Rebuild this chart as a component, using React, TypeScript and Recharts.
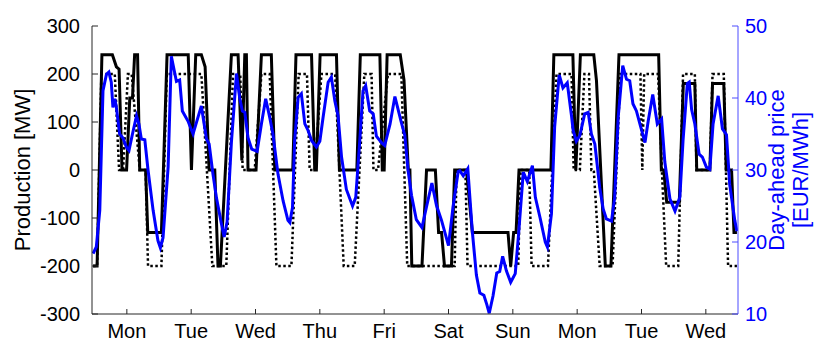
import { LineChart, Line, XAxis, YAxis } from "recharts";

// hour-of-period axis, ticks sit at midday
const dayTicks = [13, 37, 61, 85, 109, 133, 157, 181, 205, 229];
const dayNames = ["Mon", "Tue", "Wed", "Thu", "Fri", "Sat", "Sun", "Mon", "Tue", "Wed"];
const mwTicks = [-300, -200, -100, 0, 100, 200, 300];
const priceTicks = [10, 20, 30, 40, 50];

// solid black production
const solidHours = [
  0.4, 1.9, 3.7, 7.6, 9.1, 10.1, 11.2, 12.9, 14.1, 15.1, 15.9, 17.0, 17.8, 20.0, 20.8, 25.9, 28.0,
  35.9, 37.1, 38.7, 40.8, 42.2, 43.7, 45.8, 47.0, 47.9, 52.0, 54.5, 55.9, 57.0, 57.6, 58.2, 61.2,
  63.2, 66.9, 68.2, 74.9, 76.1, 81.9, 83.1, 83.7, 85.1, 91.2, 92.3, 98.8, 100.1, 107.4, 108.3,
  109.0, 110.1, 115.0, 116.4, 118.0, 118.6, 119.3, 123.1, 124.8, 128.1, 129.3, 130.4, 131.5,
  134.1, 135.3, 139.7, 141.9, 155.2, 156.2, 157.3, 158.2, 159.3, 171.2, 172.3, 179.4, 180.5,
  182.2, 187.2, 188.2, 191.5, 193.6, 196.6, 211.4, 212.4, 213.3, 214.4, 219.1, 220.6, 224.9,
  225.6, 230.5, 231.5, 235.7, 236.6, 238.6, 239.5, 240.6,
];
const solidMW = [
  -200, -200, 240, 240, 215, 210, 0, 0, 150, 150, 240, 240, 0, 0, -130, -130, 240,
  240, 0, 240, 240, 215, 0, 0, -200, -200, 240, 240, 20, 240, 240, 0, 0,
  240, 240, 0, 0, 240, 240, 0, 0, 240, 240, 0, 0, 240, 240, 0,
  0, 240, 240, 187, 0, 0, -200, -200, 0, 0, -130, -130, -200,
  -200, 0, 0, -130, -130, -200, -130, -130, 0, 0, 240, 240, 0,
  240, 240, 186, -200, -200, 240, 240, 0, 0, -67, -67, 180, 180,
  0, 0, 180, 180, 0, 0, -130, -130,
];

// dotted black production
const dottedHours = [
  0.4, 1.9, 3.5, 8.5, 10.1, 11.6, 13.4, 14.8, 17.8, 20.0, 20.9, 25.9, 27.9, 40.8, 44.9, 50.1,
  52.6, 55.3, 56.2, 60.7, 63.2, 66.3, 68.8, 74.4, 77.1, 80.2, 81.2, 83.1, 85.6, 90.7, 93.9, 98.0,
  101.6, 104.3, 105.0, 106.7, 110.4, 115.4, 117.6, 135.3, 136.0, 139.3, 140.1, 159.0, 159.9,
  163.1, 164.0, 170.1, 173.3, 178.9, 179.7, 182.0, 183.7, 185.4, 186.3, 187.2, 189.4, 194.2,
  197.1, 204.6, 205.3, 206.0, 211.2, 212.6, 214.2, 218.7, 220.5, 224.9, 225.5, 230.5, 231.5,
  235.7, 237.3, 240.6,
];
const dottedMW = [
  -200, -200, 200, 200, 0, 0, 200, 200, 0, 0, -200, -200, 200, 200, -200, -200,
  200, 200, 0, 0, 200, 200, -200, -200, 200, 200, 0, 0, 200, 200, -200, -200,
  200, 200, 0, 0, 200, 200, -200, -200, 0, 0, -200, -200, 0,
  0, -200, -200, 200, 200, 0, 0, 200, 200, 0, 0, -200, -200,
  200, 200, 0, 200, 200, 0, -200, -200, 200, 200, 0, 0, 200,
  200, -200, -200,
];

// day-ahead price
const priceHours = [
  0.4, 1.6, 2.9, 4.1, 5.4, 6.3, 7.2, 7.8, 8.5, 9.1, 10.3, 11.6, 12.8, 13.8, 15.1, 16.6, 17.5,
  18.4, 19.7, 20.9, 22.8, 24.6, 25.5, 26.5, 28.4, 29.6, 31.5, 32.7, 33.7, 35.8, 37.7, 40.8, 42.7,
  43.7, 45.1, 46.4, 48.3, 49.3, 50.4, 52.0, 53.9, 55.1, 56.1, 57.0, 58.2, 59.6, 61.6, 63.2, 64.8,
  66.3, 67.5, 69.4, 71.3, 73.1, 73.8, 74.8, 75.6, 76.9, 78.1, 79.4, 80.6, 81.9, 83.7, 85.0, 86.2,
  88.1, 89.3, 90.6, 91.8, 93.1, 94.9, 97.2, 98.4, 99.9, 101.1, 102.1, 103.6, 104.9, 106.1, 108.0,
  109.2, 111.2, 113.0, 115.4, 116.7, 117.9, 119.2, 121.0, 123.1, 124.8, 126.8, 128.5, 130.4,
  133.0, 134.7, 136.6, 137.2, 138.5, 140.2, 141.9, 143.4, 144.7, 146.2, 147.3, 148.2, 149.6,
  151.0, 152.1, 153.2, 154.6, 156.2, 157.9, 159.1, 160.9, 162.4, 164.3, 165.4, 167.2, 169.1,
  169.9, 171.4, 172.6, 174.3, 175.7, 177.3, 178.9, 179.5, 180.7, 182.0, 183.8, 185.1, 186.3,
  187.6, 189.4, 190.7, 191.9, 193.8, 195.0, 196.3, 198.0, 199.4, 200.6, 201.8, 203.1, 204.4,
  206.3, 207.5, 209.2, 210.9, 212.5, 213.7, 215.6, 217.5, 219.3, 220.5, 222.1, 222.8, 223.7,
  224.9, 226.5, 227.7, 229.2, 230.5, 231.7, 233.6, 235.2, 236.7, 237.9, 239.8, 240.6,
];
const priceEUR = [
  18.4, 19.3, 24.4, 41.0, 43.3, 43.6, 42.2, 38.7, 39.9, 38.7, 35.0, 34.4, 33.2, 32.7, 35.0, 37.5, 36.4,
  34.3, 34.2, 30.0, 24.4, 20.2, 19.2, 20.6, 30.4, 45.8, 42.3, 42.5, 38.2, 36.8, 35.0, 38.9, 34.3,
  33.6, 29.5, 26.2, 22.5, 20.7, 22.8, 33.8, 43.4, 40.0, 38.2, 38.0, 34.5, 32.9, 32.6, 36.4, 39.9,
  37.3, 35.0, 29.4, 25.7, 23.0, 22.7, 24.8, 34.1, 40.1, 40.6, 36.4, 35.5, 34.1, 33.2, 34.0, 37.3,
  42.2, 42.9, 39.6, 37.5, 31.8, 27.3, 25.0, 26.2, 34.1, 41.0, 41.7, 38.2, 37.8, 34.7, 33.8,
  33.4, 36.4, 40.2, 36.6, 34.8, 30.0, 26.5, 23.1, 22.0, 24.9, 28.2, 25.1, 23.0,
  19.5, 24.9, 29.8, 29.9, 29.2, 30.2, 21.4, 15.4, 12.9, 12.6, 11.3, 10.1, 12.5,
  15.7, 15.9, 18.0, 16.0, 14.4, 15.6, 20.9, 29.7, 28.4, 30.6, 26.2, 23.3, 20.0,
  19.3, 23.9, 36.0, 43.2, 41.4, 42.1, 37.5, 35.5, 34.0, 34.8, 37.8, 38.0, 35.0,
  33.6, 27.6, 24.6, 23.2, 22.9, 26.2, 37.3, 44.5, 42.6, 42.4, 39.2, 38.2, 36.4,
  33.8, 36.8, 40.5, 36.4, 37.1, 31.1, 26.0, 24.3, 26.2, 34.1, 42.0, 42.2, 38.4,
  36.4, 32.2, 31.8, 30.4, 30.1, 36.4, 40.3, 35.7, 34.9, 28.0, 23.0, 21.5,
];

const solidData = solidHours.map((h, i) => ({ h, v: solidMW[i] }));
const dottedData = dottedHours.map((h, i) => ({ h, v: dottedMW[i] }));
const priceData = priceHours.map((h, i) => ({ h, v: priceEUR[i] }));

const FONT = '"Liberation Sans", Arial, Helvetica, sans-serif';
const AXIS = "#262626";
const BLUE = "#0000ff";

export default function App() {
  return (
    <div style={{ position: "absolute", left: 0, top: 0, width: 830, height: 355, fontFamily: FONT, background: "#fff" }}>
      <LineChart width={830} height={355} margin={{ top: 26, right: 0, bottom: 0, left: 0 }}>
        <XAxis
          xAxisId="t"
          type="number"
          dataKey="h"
          domain={[0, 241]}
          ticks={dayTicks}
          tickFormatter={(v: number) => dayNames[dayTicks.indexOf(v)]}
          height={41}
          stroke={AXIS}
          tick={{ fill: "#000", fontSize: 20 }}
          tickSize={-5}
          tickMargin={15}
          allowDataOverflow
        />
        <YAxis
          yAxisId="mw"
          orientation="left"
          domain={[-300, 300]}
          ticks={mwTicks}
          width={92}
          stroke={AXIS}
          tick={{ fill: "#000", fontSize: 20 }}
          tickSize={-6}
          tickMargin={18}
          allowDataOverflow
        />
        <YAxis
          yAxisId="price"
          orientation="right"
          domain={[10, 50]}
          ticks={priceTicks}
          width={92}
          stroke="#4d4dff"
          tick={{ fill: BLUE, fontSize: 20 }}
          tickSize={-6}
          tickMargin={13}
          allowDataOverflow
        />
        <Line
          data={solidData}
          xAxisId="t"
          yAxisId="mw"
          dataKey="v"
          type="linear"
          stroke="#000"
          strokeWidth={3}
          dot={false}
          isAnimationActive={false}
        />
        <Line
          data={dottedData}
          xAxisId="t"
          yAxisId="mw"
          dataKey="v"
          type="linear"
          stroke="#000"
          strokeWidth={2.5}
          strokeDasharray="2.5 2.5"
          dot={false}
          isAnimationActive={false}
        />
        <Line
          data={priceData}
          xAxisId="t"
          yAxisId="price"
          dataKey="v"
          type="linear"
          stroke={BLUE}
          strokeWidth={3}
          dot={false}
          isAnimationActive={false}
        />
      </LineChart>
      <svg width={830} height={355} style={{ position: "absolute", left: 0, top: 0, pointerEvents: "none" }}>
        <text x={30} y={170} transform="rotate(-90 30 170)" textAnchor="middle" fontSize={22} fill="#000">
          Production [MW]
        </text>
        <text x={784} y={170} transform="rotate(-90 784 170)" textAnchor="middle" fontSize={22} fill={BLUE}>
          Day-ahead price
        </text>
        <text x={808} y={170} transform="rotate(-90 808 170)" textAnchor="middle" fontSize={22} fill={BLUE}>
          [EUR/MWh]
        </text>
      </svg>
    </div>
  );
}
